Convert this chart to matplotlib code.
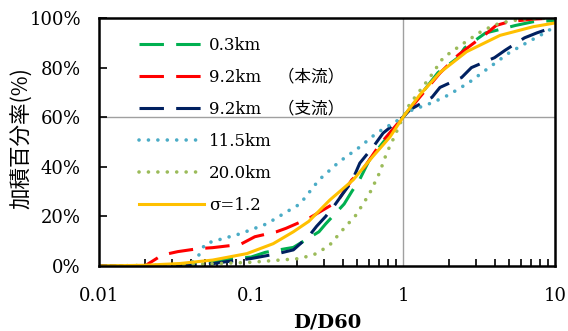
import matplotlib
matplotlib.use("Agg")
import matplotlib.pyplot as plt
from matplotlib.ticker import FixedLocator, LogLocator, NullFormatter, FuncFormatter

# --- data (D/D60, cumulative %) ---
x_03 = [0.01, 0.03, 0.046, 0.059, 0.075, 0.1, 0.124, 0.17, 0.19, 0.28, 0.31, 0.41, 0.46, 0.52, 0.6, 0.7, 1.0,
        1.7, 2.3, 2.55, 3.5, 4.1, 5.5, 7.2, 10]
y_03 = [0, 0.2, 1.5, 2, 3, 3.6, 5.5, 7, 7.5, 13.8, 17, 25, 30, 35, 42.7, 48, 60,
        78, 84, 88, 94, 95, 97, 98.5, 99]

x_92m = [0.01, 0.02, 0.026, 0.033, 0.045, 0.056, 0.085, 0.106, 0.147, 0.17, 0.24, 0.37, 0.46, 0.54, 0.6, 0.7, 1.0,
         1.75, 2.3, 2.66, 3.5, 4.1, 5.0, 7.0, 10]
y_92m = [0, 0, 4.4, 5.8, 7, 7.4, 8.7, 11.8, 13.8, 15.2, 19.2, 26, 34.7, 38.7, 42.7, 48.8, 60,
         77.8, 85, 88, 93.5, 97, 98.5, 99.5, 100]

x_92t = [0.01, 0.03, 0.05, 0.068, 0.1, 0.15, 0.19, 0.24, 0.27, 0.31, 0.35, 0.4, 0.46, 0.52, 0.65, 0.74, 0.95, 1.0,
         1.11, 1.55, 1.75, 2.43, 2.82, 4.0, 4.7, 6.3, 7.6, 10]
y_92t = [0, 0, 0.5, 1.7, 3, 5, 6.5, 12, 16, 20, 24, 29, 34, 41.5, 48.8, 53.6, 59, 60,
         63, 68, 72, 76, 80, 84, 87, 92, 94, 96.5]

x_115 = [0.01, 0.025, 0.04, 0.045, 0.05, 0.065, 0.085, 0.127, 0.18, 0.21, 0.28, 0.38, 0.52, 0.67, 0.86, 1.0,
         1.05, 1.58, 2.0, 2.72, 3.5, 5.0, 6.5, 8.0, 10]
y_115 = [0, 0, 1, 4, 9, 11, 13, 17, 22.6, 25, 34.7, 42, 48, 53.6, 57.6, 60,
         62, 66, 69, 74, 79, 86, 90, 93, 96.5]

x_200 = [0.01, 0.03, 0.05, 0.1, 0.155, 0.21, 0.27, 0.33, 0.4, 0.49, 0.6, 0.7, 0.78, 0.86, 1.0,
         1.1, 1.5, 1.84, 2.6, 3.35, 4.35, 6.0, 10]
y_200 = [0, 0.4, 0.8, 1.5, 2.4, 3, 5, 8.5, 14.5, 20.5, 29, 37.5, 45.5, 51, 60,
         65, 76, 84, 90.5, 95, 98, 99.5, 100]

x_sig = [0.01, 0.02, 0.034, 0.056, 0.094, 0.14, 0.19, 0.24, 0.33, 0.47, 0.63, 0.82, 1.0,
         1.29, 1.75, 2.62, 4.35, 7.2, 10]
y_sig = [0, 0.3, 1, 2.4, 5, 9, 13.8, 18, 26.6, 34.7, 44, 52, 60,
         69, 78, 86.4, 93, 96.5, 98]

labels = ["0.3km", "9.2km　（本流）", "9.2km　（支流）", "11.5km", "20.0km", "σ=1.2"]

serif = ["DejaVu Serif", "Noto Sans CJK JP"]
plt.rcParams["font.family"] = serif

fig = plt.figure(figsize=(5.68, 3.31), dpi=100)
ax = fig.add_axes([99 / 568, 1 - 266 / 331, 456 / 568, 248 / 331])

dash = dict(dashes=(8, 4), lw=2.2)
dot = dict(dashes=(0.01, 2.6), lw=2.6, dash_capstyle="round")
ax.plot(x_03, y_03, color="#00B050", label=labels[0], **dash)
ax.plot(x_92m, y_92m, color="#FF0000", label=labels[1], **dash)
ax.plot(x_92t, y_92t, color="#002060", label=labels[2], **dash)
ax.plot(x_115, y_115, color="#4BACC6", label=labels[3], **dot)
ax.plot(x_200, y_200, color="#9BBB59", label=labels[4], **dot)
ax.plot(x_sig, y_sig, color="#FFC000", lw=2.2, label=labels[5])

# the two reference lines
ax.axvline(1, color="#A0A0A0", lw=1, zorder=0)
ax.axhline(60, color="#A0A0A0", lw=1, zorder=0)

ax.set_xscale("log")
ax.set_xlim(0.01, 10)
ax.set_ylim(0, 100)
ax.xaxis.set_major_locator(FixedLocator([0.01, 0.1, 1, 10]))
ax.xaxis.set_major_formatter(FuncFormatter(lambda v, p: f"{v:g}"))
ax.xaxis.set_minor_locator(LogLocator(base=10, subs=range(2, 10)))
ax.xaxis.set_minor_formatter(NullFormatter())
ax.set_yticks(range(0, 101, 20))
ax.yaxis.set_major_formatter(FuncFormatter(lambda v, p: f"{v:.0f}%"))

ax.tick_params(axis="both", which="both", direction="in", labelsize=13, color="black")
ax.tick_params(axis="x", which="major", length=0, pad=15)
ax.tick_params(axis="x", which="minor", length=5, width=1.2)
ax.tick_params(axis="y", which="major", length=6, width=1.2, pad=13)
for s in ax.spines.values():
    s.set_linewidth(1.8)
    s.set_color("black")

ax.set_xlabel("D/D60", fontsize=14, fontweight="bold", labelpad=6)
ax.set_ylabel("加積百分率(%)", fontsize=15.5, family=["Noto Sans CJK JP"])
ax.yaxis.set_label_coords(-0.145, 0.516)

ax.legend(loc="upper left", bbox_to_anchor=(0.055, 0.985), frameon=False, fontsize=12,
          handlelength=3.9, handletextpad=0.3, labelspacing=0.9)

fig.savefig("out.png", dpi=100)
